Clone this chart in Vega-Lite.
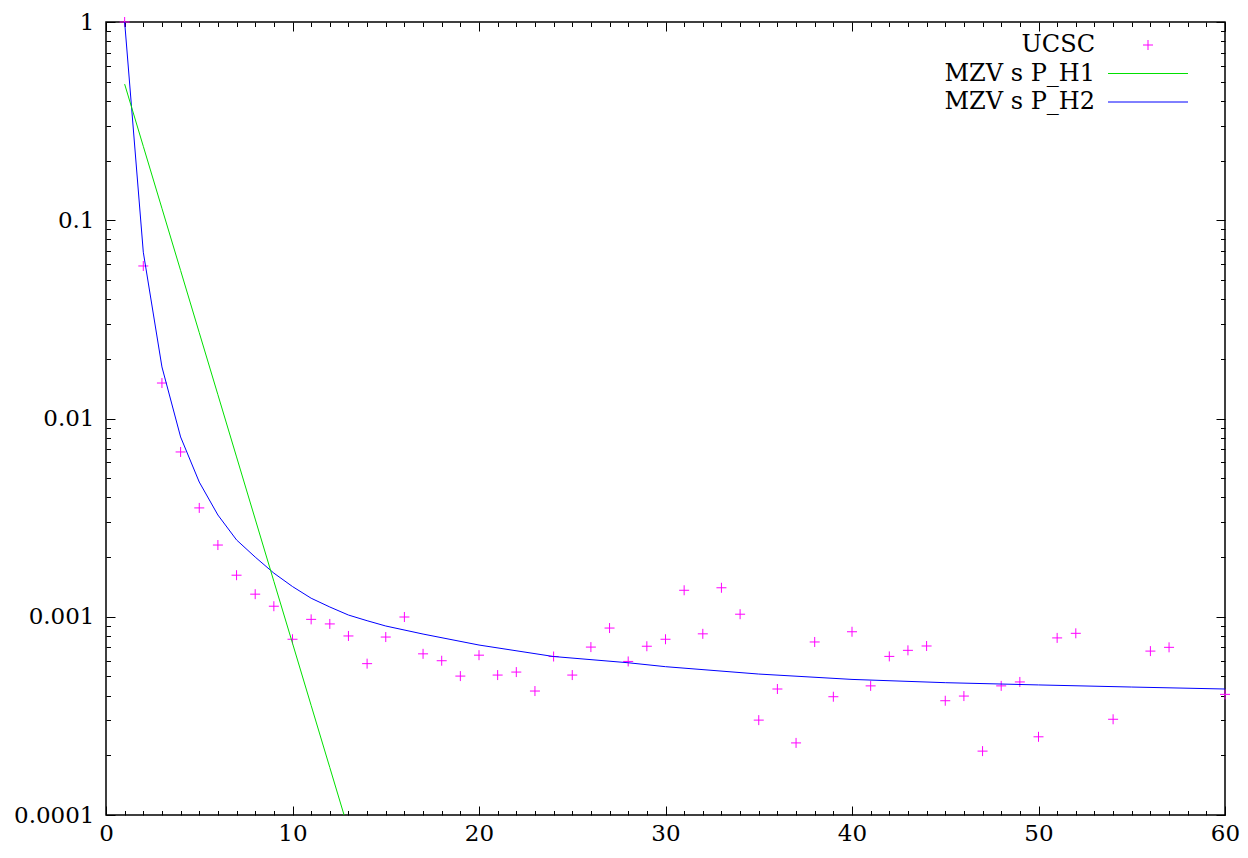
{
  "$schema": "https://vega.github.io/schema/vega-lite/v6.json",
  "autosize": {"type": "none"},
  "width": 1119,
  "height": 793,
  "padding": {"left": 106, "top": 22, "right": 23, "bottom": 43},
  "background": "white",
  "config": {
    "view": {"stroke": "black", "strokeWidth": 1.5, "fill": "transparent"},
    "axis": {
      "labelFont": "DejaVu Serif",
      "labelFontSize": 23,
      "labelColor": "black",
      "domain": false,
      "ticks": false,
      "gridColor": "black",
      "gridWidth": 1,
      "gridOpacity": 1,
      "zindex": 1,
      "title": null
    },
    "legend": {
      "labelFont": "DejaVu Serif",
      "labelFontSize": 24,
      "labelColor": "black",
      "labelLimit": 400
    }
  },
  "datasets": {
    "ucsc": [
      {"series": "UCSC", "x": 1, "y": 1.0},
      {"series": "UCSC", "x": 2, "y": 0.0588},
      {"series": "UCSC", "x": 3, "y": 0.0151},
      {"series": "UCSC", "x": 4, "y": 0.00678},
      {"series": "UCSC", "x": 5, "y": 0.00354},
      {"series": "UCSC", "x": 6, "y": 0.0023},
      {"series": "UCSC", "x": 7, "y": 0.00162},
      {"series": "UCSC", "x": 8, "y": 0.0013},
      {"series": "UCSC", "x": 9, "y": 0.00113},
      {"series": "UCSC", "x": 10, "y": 0.00077},
      {"series": "UCSC", "x": 11, "y": 0.00097},
      {"series": "UCSC", "x": 12, "y": 0.00092},
      {"series": "UCSC", "x": 13, "y": 0.0008},
      {"series": "UCSC", "x": 14, "y": 0.00058},
      {"series": "UCSC", "x": 15, "y": 0.00079},
      {"series": "UCSC", "x": 16, "y": 0.000997},
      {"series": "UCSC", "x": 17, "y": 0.00065},
      {"series": "UCSC", "x": 18, "y": 0.0006},
      {"series": "UCSC", "x": 19, "y": 0.000502},
      {"series": "UCSC", "x": 20, "y": 0.00064},
      {"series": "UCSC", "x": 21, "y": 0.000508},
      {"series": "UCSC", "x": 22, "y": 0.000526},
      {"series": "UCSC", "x": 23, "y": 0.000422},
      {"series": "UCSC", "x": 24, "y": 0.00063},
      {"series": "UCSC", "x": 25, "y": 0.000508},
      {"series": "UCSC", "x": 26, "y": 0.000703},
      {"series": "UCSC", "x": 27, "y": 0.000877},
      {"series": "UCSC", "x": 28, "y": 0.000595},
      {"series": "UCSC", "x": 29, "y": 0.00071},
      {"series": "UCSC", "x": 30, "y": 0.00077},
      {"series": "UCSC", "x": 31, "y": 0.00136},
      {"series": "UCSC", "x": 32, "y": 0.00082},
      {"series": "UCSC", "x": 33, "y": 0.0014},
      {"series": "UCSC", "x": 34, "y": 0.00103},
      {"series": "UCSC", "x": 35, "y": 0.000301},
      {"series": "UCSC", "x": 36, "y": 0.000432},
      {"series": "UCSC", "x": 37, "y": 0.000231},
      {"series": "UCSC", "x": 38, "y": 0.000746},
      {"series": "UCSC", "x": 39, "y": 0.000395},
      {"series": "UCSC", "x": 40, "y": 0.00084},
      {"series": "UCSC", "x": 41, "y": 0.000448},
      {"series": "UCSC", "x": 42, "y": 0.000631},
      {"series": "UCSC", "x": 43, "y": 0.000677},
      {"series": "UCSC", "x": 44, "y": 0.000712},
      {"series": "UCSC", "x": 45, "y": 0.000377},
      {"series": "UCSC", "x": 46, "y": 0.000398},
      {"series": "UCSC", "x": 47, "y": 0.00021},
      {"series": "UCSC", "x": 48, "y": 0.000448},
      {"series": "UCSC", "x": 49, "y": 0.000469},
      {"series": "UCSC", "x": 50, "y": 0.000248},
      {"series": "UCSC", "x": 51, "y": 0.000782},
      {"series": "UCSC", "x": 52, "y": 0.000825},
      {"series": "UCSC", "x": 54, "y": 0.000304},
      {"series": "UCSC", "x": 56, "y": 0.000671},
      {"series": "UCSC", "x": 57, "y": 0.000701},
      {"series": "UCSC", "x": 60, "y": 0.000406}
    ],
    "h1": [
      {"series": "MZV s P_H1", "x": 1, "y": 0.486},
      {"series": "MZV s P_H1", "x": 2, "y": 0.236},
      {"series": "MZV s P_H1", "x": 3, "y": 0.1148},
      {"series": "MZV s P_H1", "x": 4, "y": 0.0558},
      {"series": "MZV s P_H1", "x": 5, "y": 0.0271},
      {"series": "MZV s P_H1", "x": 6, "y": 0.01318},
      {"series": "MZV s P_H1", "x": 7, "y": 0.0064},
      {"series": "MZV s P_H1", "x": 8, "y": 0.00311},
      {"series": "MZV s P_H1", "x": 9, "y": 0.00151},
      {"series": "MZV s P_H1", "x": 10, "y": 0.000735},
      {"series": "MZV s P_H1", "x": 11, "y": 0.000357},
      {"series": "MZV s P_H1", "x": 12, "y": 0.0001736},
      {"series": "MZV s P_H1", "x": 13, "y": 0.0000844}
    ],
    "h2": [
      {"series": "MZV s P_H2", "x": 1, "y": 1.0},
      {"series": "MZV s P_H2", "x": 2, "y": 0.069},
      {"series": "MZV s P_H2", "x": 3, "y": 0.0182},
      {"series": "MZV s P_H2", "x": 4, "y": 0.00807},
      {"series": "MZV s P_H2", "x": 5, "y": 0.00478},
      {"series": "MZV s P_H2", "x": 6, "y": 0.00326},
      {"series": "MZV s P_H2", "x": 7, "y": 0.00244},
      {"series": "MZV s P_H2", "x": 8, "y": 0.002},
      {"series": "MZV s P_H2", "x": 9, "y": 0.00166},
      {"series": "MZV s P_H2", "x": 10, "y": 0.00142},
      {"series": "MZV s P_H2", "x": 11, "y": 0.00124},
      {"series": "MZV s P_H2", "x": 12, "y": 0.00112},
      {"series": "MZV s P_H2", "x": 13, "y": 0.00102},
      {"series": "MZV s P_H2", "x": 14, "y": 0.000955},
      {"series": "MZV s P_H2", "x": 15, "y": 0.000898},
      {"series": "MZV s P_H2", "x": 17, "y": 0.000818},
      {"series": "MZV s P_H2", "x": 20, "y": 0.00072},
      {"series": "MZV s P_H2", "x": 24, "y": 0.00063},
      {"series": "MZV s P_H2", "x": 28, "y": 0.000586},
      {"series": "MZV s P_H2", "x": 30, "y": 0.00056},
      {"series": "MZV s P_H2", "x": 35, "y": 0.000514},
      {"series": "MZV s P_H2", "x": 40, "y": 0.000483},
      {"series": "MZV s P_H2", "x": 45, "y": 0.000465},
      {"series": "MZV s P_H2", "x": 50, "y": 0.000453},
      {"series": "MZV s P_H2", "x": 55, "y": 0.000442},
      {"series": "MZV s P_H2", "x": 60, "y": 0.000432}
    ]
  },
  "layer": [
    {
      "data": {"name": "ucsc"},
      "mark": {"type": "point", "size": 400, "filled": false, "strokeWidth": 1, "opacity": 1, "clip": false},
      "encoding": {
        "x": {
          "field": "x", "type": "quantitative",
          "scale": {"domain": [0, 60], "nice": false, "zero": false},
          "axis": {
            "orient": "bottom",
            "values": [0, 10, 20, 30, 40, 50, 60],
            "grid": true,
            "gridDash": [9, 775],
            "labelPadding": 7,
            "labelFlush": false,
            "labelOverlap": false
          }
        },
        "y": {
          "field": "y", "type": "quantitative",
          "scale": {"type": "log", "domain": [0.0001, 1], "nice": false},
          "axis": {
            "orient": "left",
            "values": [0.0001, 0.001, 0.01, 0.1, 1],
            "format": "~g",
            "grid": true,
            "gridDash": [9, 1101],
            "labelPadding": 12,
            "labelFlush": false,
            "labelOverlap": false
          }
        },
        "color": {
          "field": "series", "type": "nominal",
          "scale": {"domain": ["UCSC", "MZV s P_H1", "MZV s P_H2"], "range": ["#ff00ff", "#00e000", "#0000ff"]},
          "legend": {
            "title": null,
            "orient": "none",
            "legendX": 1030,
            "legendY": 11,
            "symbolSize": 400,
            "symbolStrokeWidth": 1,
            "symbolFillColor": "transparent",
            "labelAlign": "right",
            "labelOffset": -65,
            "rowPadding": 4.5,
            "padding": 0
          }
        },
        "shape": {
          "field": "series", "type": "nominal",
          "scale": {"domain": ["UCSC", "MZV s P_H1", "MZV s P_H2"], "range": ["M-0.5,0L0.5,0M0,-0.5L0,0.5", "M-4,0L4,0", "M-4,0L4,0"]},
          "legend": {
            "title": null,
            "orient": "none",
            "legendX": 1030,
            "legendY": 11,
            "symbolSize": 400,
            "symbolStrokeWidth": 1,
            "symbolFillColor": "transparent",
            "labelAlign": "right",
            "labelOffset": -65,
            "rowPadding": 4.5,
            "padding": 0
          }
        }
      }
    },
    {
      "data": {"name": "h2"},
      "mark": {"type": "line", "strokeWidth": 1, "clip": true},
      "encoding": {
        "x": {
          "field": "x", "type": "quantitative",
          "axis": {"orient": "top", "labels": false, "grid": false, "ticks": false, "domain": false}
        },
        "y": {
          "field": "y", "type": "quantitative",
          "axis": {"orient": "right", "labels": false, "grid": false, "ticks": false, "domain": false}
        },
        "color": {"field": "series", "type": "nominal"}
      }
    },
    {
      "data": {"name": "h1"},
      "mark": {"type": "line", "strokeWidth": 1, "clip": true},
      "encoding": {
        "x": {
          "field": "x", "type": "quantitative",
          "axis": {
            "orient": "bottom",
            "values": [1,2,3,4,5,6,7,8,9,11,12,13,14,15,16,17,18,19,21,22,23,24,25,26,27,28,29,31,32,33,34,35,36,37,38,39,41,42,43,44,45,46,47,48,49,51,52,53,54,55,56,57,58,59],
            "labels": false,
            "grid": true,
            "gridDash": [4.5, 784]
          }
        },
        "y": {
          "field": "y", "type": "quantitative",
          "axis": {
            "orient": "left",
            "values": [0.0002,0.0003,0.0004,0.0005,0.0006,0.0007,0.0008,0.0009,0.002,0.003,0.004,0.005,0.006,0.007,0.008,0.009,0.02,0.03,0.04,0.05,0.06,0.07,0.08,0.09,0.2,0.3,0.4,0.5,0.6,0.7,0.8,0.9],
            "labels": false,
            "grid": true,
            "gridDash": [4.5, 1110]
          }
        },
        "color": {"field": "series", "type": "nominal"}
      }
    }
  ]
}
